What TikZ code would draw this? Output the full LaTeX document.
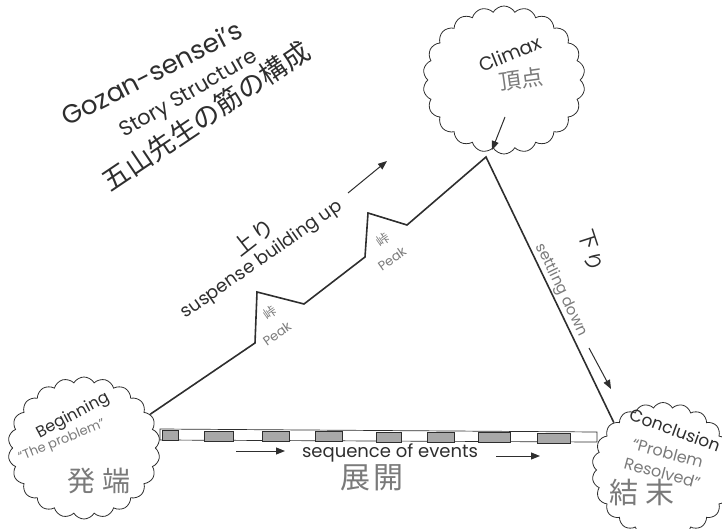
\documentclass[tikz,border=0pt]{standalone}
\usepackage{fontspec}
\usepackage{graphicx}
\setmainfont{Poppins}
\newfontfamily\jp{Noto Sans CJK JP}
\usetikzlibrary{shapes.symbols,arrows.meta,calc}
\definecolor{ink}{HTML}{2E2E2E}
\definecolor{soft}{HTML}{7A7A7A}
\definecolor{barfill}{HTML}{A8A8A8}
\tikzset{
  cloudbox/.style={cloud, cloud puffs=22, cloud puff arc=120, draw=ink, line width=0.8pt, inner sep=0pt},
  mline/.style={draw=ink, line width=1.6pt, line join=miter},
  harrow/.style={draw=ink, line width=1pt, -{Triangle[length=9pt,width=7pt]}},
  inktext/.style={text=ink, inner sep=0pt},
  softtext/.style={text=soft, inner sep=0pt},
}
\begin{document}
\begin{tikzpicture}[x=1pt,y=1pt]
\useasboundingbox (0,0) rectangle (722,-529);

% clouds
\node[cloudbox, minimum width=152, minimum height=142] (beg) at (84,-448) {};
\node[cloudbox, minimum width=162, minimum height=148] (cli) at (504,-80) {};
\node[cloudbox, minimum width=142, minimum height=135] (con) at (663,-470) {};

% title
\node[inktext, rotate=27, font=\fontsize{26}{28}\selectfont] (t1) at (152,-73) {Gozan-sensei's};
\node[inktext, rotate=30, font=\fontsize{21}{23}\selectfont] (t2) at (189,-95) {Story Structure};
\node[inktext, font=\jp\fontsize{27}{29}\selectfont] (t3) at (206,-116) {\rotatebox{34}{五山先生の筋の構成}};

% mountain line
\coordinate (a1) at (255,-343);
\coordinate (a2) at (257,-292);
\coordinate (a3) at (304,-304);
\coordinate (a4) at (365,-257);
\coordinate (a5) at (368,-213);
\coordinate (a6) at (407,-225);
\coordinate (top) at (486,-157);
\draw[mline] (beg.27) -- (a1) -- (a2) -- (a3) -- (a4) -- (a5) -- (a6) -- (top) -- (con.136);

% horizontal bar
\draw[draw=ink, line width=0.7pt, fill=white] (160,-429) -- (597,-432) -- (597,-442) -- (160,-440) -- cycle;
\foreach \a/\b in {162/178, 204/233, 262/289, 315/342, 376/401, 427/454, 478/510, 537/570}{
  \fill[barfill] (\a,{-429.5-\a/150}) rectangle (\b,{-439.5-\a/150});
  \draw[ink, line width=0.4pt] (\a,{-429.5-\a/150}) rectangle (\b,{-439.5-\a/150});
}

% sequence of events
\node[inktext, font=\fontsize{18}{20}\selectfont] (seq) at (390,-453) {sequence of events};
\coordinate (sl1) at (236,-451);
\coordinate (sl2) at (285,-451);
\draw[harrow] (sl1) -- (sl2);
\coordinate (sr1) at (496,-456);
\coordinate (sr2) at (540,-456);
\draw[harrow] (sr1) -- (sr2);
\node[softtext, font=\jp\fontsize{30}{32}\selectfont] (tenkai) at (372,-478) {展\hspace{3pt}開};

% rising labels
\node[inktext, font=\jp\fontsize{22}{24}\selectfont] (nobori1) at (244,-244) {\rotatebox{38}{上}};
\node[inktext, font=\jp\fontsize{22}{24}\selectfont] (nobori2) at (263,-230) {\rotatebox{38}{り}};
\node[inktext, rotate=35, font=\fontsize{18}{20}\selectfont] (susp) at (262,-260) {suspense building up};
\coordinate (ua) at (348,-193);
\coordinate (ub) at (387,-161);
\draw[harrow] (ua) -- (ub);

% peaks
\node[softtext, font=\jp\fontsize{13}{14}\selectfont] (pk1j) at (270,-313) {\rotatebox{35}{峠}};
\node[softtext, rotate=35, font=\fontsize{13}{14}\selectfont] (pk1) at (277,-334) {Peak};
\node[softtext, font=\jp\fontsize{13}{14}\selectfont] (pk2j) at (383,-240) {\rotatebox{35}{峠}};
\node[softtext, rotate=35, font=\fontsize{13}{14}\selectfont] (pk2) at (392,-259) {Peak};

% climax
\node[inktext, rotate=22, font=\fontsize{19}{21}\selectfont] (clim) at (510,-54) {Climax};
\node[softtext, font=\jp\fontsize{22}{24}\selectfont] (choten) at (521,-79) {\rotatebox{8}{頂点}};
\coordinate (ca) at (505,-117);
\coordinate (cb) at (492,-150);
\draw[harrow] (ca) -- (cb);

% settling down
\node[inktext, font=\jp\fontsize{20}{22}\selectfont] (kudari1) at (588,-240) {\rotatebox{-72}{下}};
\node[inktext, font=\jp\fontsize{20}{22}\selectfont] (kudari2) at (594,-262) {\rotatebox{-72}{り}};
\node[softtext, rotate=-64, font=\fontsize{15}{17}\selectfont] (settle) at (561,-290) {settling down};
\coordinate (da) at (589,-348);
\coordinate (db) at (611,-389);
\draw[harrow] (da) -- (db);

% beginning
\node[inktext, rotate=28, font=\fontsize{16}{18}\selectfont] (begt) at (73,-416) {Beginning};
\node[softtext, rotate=22, font=\fontsize{13}{15}\selectfont] (probt) at (62,-441) {``The problem''};
\node[softtext, font=\jp\fontsize{28}{30}\selectfont] (hottan) at (99,-481) {発\hspace{8pt}端};

% conclusion
\node[inktext, rotate=-20, font=\fontsize{17}{19}\selectfont] (cont) at (675,-430) {Conclusion};
\node[softtext, rotate=-15, font=\fontsize{16}{21}\selectfont, align=center] (resol) at (665,-463) {``Problem\\Resolved''};
\node[softtext, font=\jp\fontsize{29}{31}\selectfont] (ketsu) at (642,-493) {結\hspace{8pt}末};
\end{tikzpicture}
\end{document}
